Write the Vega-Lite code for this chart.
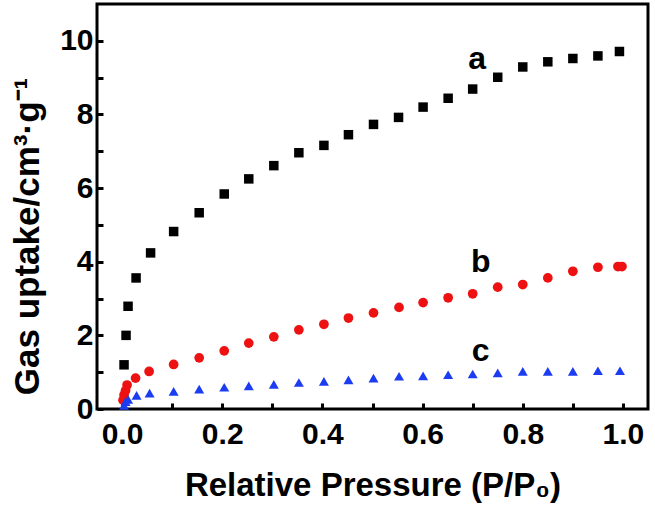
{
  "$schema": "https://vega.github.io/schema/vega-lite/v6.json",
  "width": 551,
  "height": 405,
  "autosize": {"type": "none"},
  "padding": {"left": 97, "top": 4, "right": 7, "bottom": 99},
  "config": {
    "view": {"stroke": "black", "strokeWidth": 3},
    "font": "Liberation Sans",
    "axis": {
      "domain": false,
      "grid": false,
      "tickColor": "black",
      "tickWidth": 3,
      "tickSize": -6,
      "labelFont": "Liberation Sans",
      "labelFontWeight": "bold",
      "labelFontSize": 30,
      "labelColor": "black",
      "titleFont": "Liberation Sans",
      "titleFontWeight": "bold",
      "titleFontSize": 33,
      "titleColor": "black"
    }
  },
  "datasets": {
    "pts": [
      {"s": "a", "x": 0.004, "y": 1.2},
      {"s": "a", "x": 0.008, "y": 2.0},
      {"s": "a", "x": 0.012, "y": 2.79},
      {"s": "a", "x": 0.028, "y": 3.56},
      {"s": "a", "x": 0.057, "y": 4.24},
      {"s": "a", "x": 0.103, "y": 4.82},
      {"s": "a", "x": 0.154, "y": 5.33},
      {"s": "a", "x": 0.204, "y": 5.84},
      {"s": "a", "x": 0.253, "y": 6.25},
      {"s": "a", "x": 0.303, "y": 6.61},
      {"s": "a", "x": 0.353, "y": 6.96},
      {"s": "a", "x": 0.403, "y": 7.16},
      {"s": "a", "x": 0.452, "y": 7.45},
      {"s": "a", "x": 0.502, "y": 7.73},
      {"s": "a", "x": 0.552, "y": 7.92},
      {"s": "a", "x": 0.601, "y": 8.2},
      {"s": "a", "x": 0.651, "y": 8.44},
      {"s": "a", "x": 0.7, "y": 8.69},
      {"s": "a", "x": 0.75, "y": 9.01},
      {"s": "a", "x": 0.8, "y": 9.29},
      {"s": "a", "x": 0.85, "y": 9.43},
      {"s": "a", "x": 0.9, "y": 9.52},
      {"s": "a", "x": 0.95, "y": 9.59},
      {"s": "a", "x": 0.993, "y": 9.71},
      {"s": "b", "x": 0.002, "y": 0.24},
      {"s": "b", "x": 0.004, "y": 0.38},
      {"s": "b", "x": 0.007, "y": 0.5},
      {"s": "b", "x": 0.01, "y": 0.65},
      {"s": "b", "x": 0.027, "y": 0.84},
      {"s": "b", "x": 0.054, "y": 1.02},
      {"s": "b", "x": 0.103, "y": 1.21},
      {"s": "b", "x": 0.154, "y": 1.39},
      {"s": "b", "x": 0.204, "y": 1.58},
      {"s": "b", "x": 0.253, "y": 1.79},
      {"s": "b", "x": 0.303, "y": 1.96},
      {"s": "b", "x": 0.353, "y": 2.15},
      {"s": "b", "x": 0.403, "y": 2.3},
      {"s": "b", "x": 0.452, "y": 2.47},
      {"s": "b", "x": 0.502, "y": 2.61},
      {"s": "b", "x": 0.553, "y": 2.76},
      {"s": "b", "x": 0.601, "y": 2.89},
      {"s": "b", "x": 0.651, "y": 3.02},
      {"s": "b", "x": 0.7, "y": 3.13},
      {"s": "b", "x": 0.75, "y": 3.31},
      {"s": "b", "x": 0.8, "y": 3.38},
      {"s": "b", "x": 0.85, "y": 3.56},
      {"s": "b", "x": 0.9, "y": 3.74},
      {"s": "b", "x": 0.95, "y": 3.85},
      {"s": "b", "x": 0.99, "y": 3.87},
      {"s": "b", "x": 0.998, "y": 3.87},
      {"s": "c", "x": 0.004, "y": 0.1},
      {"s": "c", "x": 0.007, "y": 0.2},
      {"s": "c", "x": 0.012, "y": 0.26},
      {"s": "c", "x": 0.029, "y": 0.37},
      {"s": "c", "x": 0.055, "y": 0.43},
      {"s": "c", "x": 0.103, "y": 0.48},
      {"s": "c", "x": 0.154, "y": 0.54},
      {"s": "c", "x": 0.204, "y": 0.59},
      {"s": "c", "x": 0.253, "y": 0.63},
      {"s": "c", "x": 0.303, "y": 0.67},
      {"s": "c", "x": 0.353, "y": 0.72},
      {"s": "c", "x": 0.403, "y": 0.75},
      {"s": "c", "x": 0.452, "y": 0.79},
      {"s": "c", "x": 0.502, "y": 0.84},
      {"s": "c", "x": 0.553, "y": 0.89},
      {"s": "c", "x": 0.601, "y": 0.9},
      {"s": "c", "x": 0.651, "y": 0.93},
      {"s": "c", "x": 0.7, "y": 0.95},
      {"s": "c", "x": 0.75, "y": 0.98},
      {"s": "c", "x": 0.8, "y": 1.02},
      {"s": "c", "x": 0.85, "y": 1.02},
      {"s": "c", "x": 0.9, "y": 1.02},
      {"s": "c", "x": 0.95, "y": 1.04},
      {"s": "c", "x": 0.994, "y": 1.04}
    ],
    "labels": [
      {"t": "a", "x": 0.709, "y": 9.5},
      {"t": "b", "x": 0.716, "y": 4.0},
      {"t": "c", "x": 0.716, "y": 1.58}
    ]
  },
  "layer": [
    {
      "data": {"name": "pts"},
      "mark": {"type": "point", "filled": true, "opacity": 1},
      "encoding": {
        "x": {
          "field": "x", "type": "quantitative",
          "scale": {"domain": [-0.05, 1.05], "nice": false, "zero": false},
          "axis": {
            "values": [0, 0.1, 0.2, 0.3, 0.4, 0.5, 0.6, 0.7, 0.8, 0.9, 1.0],
            "labelExpr": "(round(datum.value*10) % 2 == 0) ? format(datum.value, '.1f') : ''",
            "labelPadding": 16,
            "title": "Relative Pressure (P/P₀)",
            "titleBaseline": "middle",
            "titleY": 76
          }
        },
        "y": {
          "field": "y", "type": "quantitative",
          "scale": {"domain": [0, 11], "nice": false},
          "axis": {
            "values": [0, 1, 2, 3, 4, 5, 6, 7, 8, 9, 10],
            "labelExpr": "(datum.value % 2 == 0) ? format(datum.value, 'd') : ''",
            "labelPadding": 10,
            "title": "Gas uptake/cm³·g⁻¹",
            "titleFontSize": 35,
            "titleBaseline": "middle",
            "titleX": -70,
            "titleY": 232
          }
        },
        "shape": {
          "field": "s", "type": "nominal", "legend": null,
          "scale": {"domain": ["a", "b", "c"], "range": ["square", "circle", "triangle-up"]}
        },
        "size": {
          "field": "s", "type": "nominal", "legend": null,
          "scale": {"domain": ["a", "b", "c"], "range": [90, 100, 210]}
        },
        "color": {
          "field": "s", "type": "nominal", "legend": null,
          "scale": {"domain": ["a", "b", "c"], "range": ["#000000", "#ee1111", "#1c3cf2"]}
        }
      }
    },
    {
      "data": {"name": "labels"},
      "mark": {"type": "text", "font": "Liberation Sans", "fontWeight": "bold", "fontSize": 32, "color": "black", "baseline": "middle", "align": "center"},
      "encoding": {
        "x": {"field": "x", "type": "quantitative"},
        "y": {"field": "y", "type": "quantitative"},
        "text": {"field": "t"}
      }
    }
  ]
}
